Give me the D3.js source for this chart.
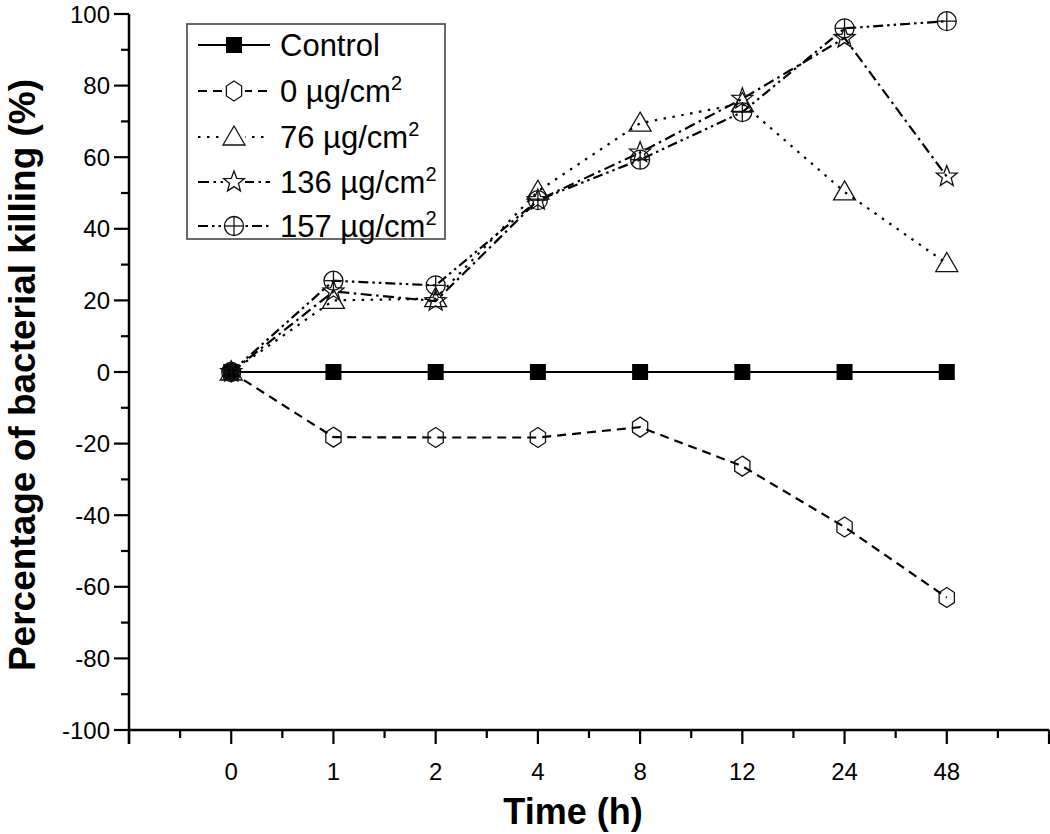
<!DOCTYPE html>
<html>
<head>
<meta charset="utf-8">
<script src="https://d3js.org/d3.v7.min.js"></script>
<style>
  html, body { margin: 0; padding: 0; background: #fff; }
  svg { display: block; font-family: "Liberation Sans", Arial, sans-serif; }
</style>
</head>
<body>
<div id="chart"></div>
<script>
// ---- data ----
const times = ["0", "1", "2", "4", "8", "12", "24", "48"];
const seriesNames = ["Control", "0 µg/cm", "76 µg/cm", "136 µg/cm", "157 µg/cm"];
const control   = [0, 0, 0, 0, 0, 0, 0, 0];
const dose0     = [0, -18.2, -18.3, -18.3, -15.4, -26.3, -43.3, -63];
const dose76    = [0, 20, 20.5, 50.5, 69.5, 75, 50.3, 30.3];
const dose136   = [0, 22.5, 19.8, 48, 61.3, 76.3, 93.3, 54.6];
const dose157   = [0, 25.5, 24.2, 48, 59.3, 72.6, 96, 98];
const yTicks = [-100, -80, -60, -40, -20, 0, 20, 40, 60, 80, 100];

const seriesValues = [control, dose0, dose76, dose136, dose157];
const markers = ["square", "hexagon", "triangle", "star", "circleplus"];
const dashes = [null, "9,6", "2.5,6.5", "11,4.5,2.5,4.5", "10,4,2.5,4,2.5,4"];

const W = 1050, H = 834;
const svg = d3.select("#chart").append("svg").attr("width", W).attr("height", H);

const x = d3.scaleLinear().domain([-1, times.length]).range([129, 1049]);
const y = d3.scaleLinear().domain([-100, 100]).range([730, 14]);

// ---- marker drawing ----
function drawMarker(g, type, cx, cy) {
  const s = g.append("g").attr("transform", `translate(${cx},${cy})`);
  const stroke = "#111", sw = 1.3;
  if (type === "square") {
    s.append("rect").attr("x", -8).attr("y", -8).attr("width", 16).attr("height", 16).attr("fill", "#000");
  } else if (type === "hexagon") {
    const r = 10;
    const pts = d3.range(6).map(i => {
      const a = -Math.PI / 2 + i * Math.PI / 3;
      return [r * 0.88 * Math.cos(a), r * Math.sin(a)];
    });
    s.append("polygon").attr("points", pts.map(p => p.join(",")).join(" "))
      .attr("fill", "none").attr("stroke", stroke).attr("stroke-width", sw);
  } else if (type === "triangle") {
    s.append("polygon").attr("points", "0,-11 11,8 -11,8")
      .attr("fill", "none").attr("stroke", stroke).attr("stroke-width", sw);
  } else if (type === "star") {
    const R = 11, r = 4.6;
    const pts = d3.range(10).map(i => {
      const a = -Math.PI / 2 + i * Math.PI / 5;
      const rr = i % 2 === 0 ? R : r;
      return [rr * Math.cos(a), rr * Math.sin(a)];
    });
    s.append("polygon").attr("points", pts.map(p => p.join(",")).join(" "))
      .attr("fill", "none").attr("stroke", stroke).attr("stroke-width", sw);
  } else if (type === "circleplus") {
    const r = 9.5;
    s.append("circle").attr("r", r).attr("fill", "none").attr("stroke", stroke).attr("stroke-width", sw);
    s.append("line").attr("x1", -r).attr("x2", r).attr("y1", 0).attr("y2", 0).attr("stroke", stroke).attr("stroke-width", sw);
    s.append("line").attr("y1", -r).attr("y2", r).attr("x1", 0).attr("x2", 0).attr("stroke", stroke).attr("stroke-width", sw);
  }
}

// ---- axes ----
const axisG = svg.append("g");
axisG.append("line").attr("x1", x(-1)).attr("x2", x(-1)).attr("y1", y(100)).attr("y2", y(-100) + 14)
  .attr("stroke", "#000").attr("stroke-width", 2.5);
axisG.append("line").attr("x1", x(-1) - 1).attr("x2", x(times.length)).attr("y1", y(-100)).attr("y2", y(-100))
  .attr("stroke", "#000").attr("stroke-width", 2.5);

yTicks.forEach(v => {
  axisG.append("line").attr("x1", x(-1) - 15).attr("x2", x(-1)).attr("y1", y(v)).attr("y2", y(v))
    .attr("stroke", "#000").attr("stroke-width", 2.2);
  axisG.append("text").attr("x", x(-1) - 19).attr("y", y(v)).attr("dy", "0.36em")
    .attr("text-anchor", "end").attr("font-size", 24).text(v);
});
for (let i = 0; i < yTicks.length - 1; i++) {
  const v = (yTicks[i] + yTicks[i + 1]) / 2;
  axisG.append("line").attr("x1", x(-1) - 8).attr("x2", x(-1)).attr("y1", y(v)).attr("y2", y(v))
    .attr("stroke", "#000").attr("stroke-width", 2.2);
}
for (let i = -1; i <= times.length; i++) {
  axisG.append("line").attr("x1", x(i)).attr("x2", x(i)).attr("y1", y(-100)).attr("y2", y(-100) + 14)
    .attr("stroke", "#000").attr("stroke-width", 2.2);
  if (i >= 0 && i < times.length) {
    axisG.append("text").attr("x", x(i)).attr("y", y(-100) + 41).attr("dy", "0.36em")
      .attr("text-anchor", "middle").attr("font-size", 24).text(times[i]);
  }
  if (i < times.length) {
    axisG.append("line").attr("x1", x(i + 0.5)).attr("x2", x(i + 0.5)).attr("y1", y(-100)).attr("y2", y(-100) + 8)
      .attr("stroke", "#000").attr("stroke-width", 2.2);
  }
}

// axis titles
svg.append("text").attr("x", 573).attr("y", 811).attr("dy", "0.36em")
  .attr("text-anchor", "middle").attr("font-size", 36).attr("font-weight", "bold").text("Time (h)");
svg.append("text").attr("transform", `translate(22,375) rotate(-90)`).attr("dy", "0.36em")
  .attr("text-anchor", "middle").attr("font-size", 37).attr("font-weight", "bold")
  .text("Percentage of bacterial killing (%)");

// ---- series ----
const line = d3.line().x((d, i) => x(i)).y(d => y(d));
const plotG = svg.append("g");
seriesValues.forEach((vals, si) => {
  plotG.append("path").attr("d", line(vals)).attr("fill", "none").attr("stroke", "#000")
    .attr("stroke-width", 2.2).attr("stroke-dasharray", dashes[si]);
});
seriesValues.forEach((vals, si) => {
  vals.forEach((v, i) => drawMarker(plotG, markers[si], x(i), y(v)));
});

// ---- legend ----
const lg = svg.append("g");
lg.append("rect").attr("x", 187).attr("y", 24).attr("width", 258).attr("height", 215)
  .attr("fill", "#fff").attr("stroke", "#444").attr("stroke-width", 1.6);
const rowY = [45, 91, 137, 182, 226];
seriesNames.forEach((name, si) => {
  const ry = rowY[si];
  lg.append("line").attr("x1", 198).attr("x2", 270).attr("y1", ry).attr("y2", ry)
    .attr("stroke", "#000").attr("stroke-width", 2.2).attr("stroke-dasharray", dashes[si]);
  if (si > 0) {
    lg.append("rect").attr("x", 223).attr("y", ry - 12).attr("width", 22).attr("height", 24).attr("fill", "#fff");
  }
  drawMarker(lg, markers[si], 234, ry);
  const t = lg.append("text").attr("x", 280).attr("y", ry).attr("dy", "0.36em").attr("font-size", 31).text(name);
  if (si > 0) {
    t.append("tspan").attr("dy", "-0.62em").attr("font-size", 20).text("2");
  }
});
</script>
</body>
</html>
